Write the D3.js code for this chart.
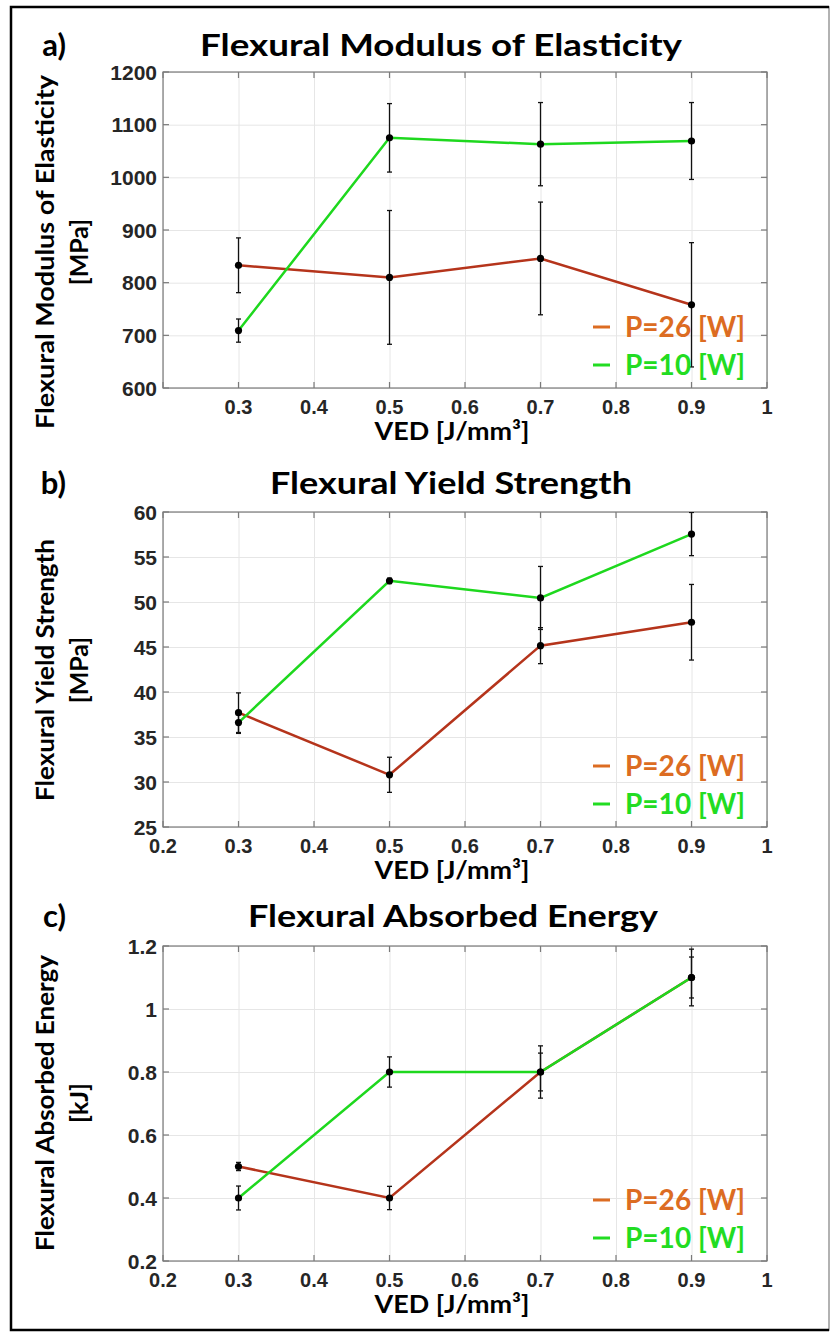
<!DOCTYPE html>
<html>
<head>
<meta charset="utf-8">
<script src="https://cdn.jsdelivr.net/npm/d3@7/dist/d3.min.js"></script>
<style>
body { margin: 0; background: #fff; }
</style>
</head>
<body>
<svg id="chart" width="840" height="1334"></svg>
<script>
// VED values (J/mm^3)
const ved = [0.3, 0.5, 0.7, 0.9];
const xTicks = [0.2, 0.3, 0.4, 0.5, 0.6, 0.7, 0.8, 0.9, 1];

// a) flexural modulus [MPa]
const modulus26 = [833, 810, 846, 758];
const modulus26Err = [52, 127, 107, 118];
const modulus10 = [709, 1075, 1063, 1069];
const modulus10Err = [22, 65, 79, 73];
const modulusTicks = [600, 700, 800, 900, 1000, 1100, 1200];

// b) flexural yield strength [MPa]
const yield26 = [37.7, 30.8, 45.15, 47.75];
const yield26Err = [2.2, 1.95, 2.0, 4.2];
const yield10 = [36.6, 52.35, 50.45, 57.55];
const yield10Err = [1.2, 0.3, 3.5, 2.4];
const yieldTicks = [25, 30, 35, 40, 45, 50, 55, 60];

// c) flexural absorbed energy [kJ]
const energy26 = [0.5, 0.4, 0.8, 1.1];
const energy26Err = [0.013, 0.037, 0.083, 0.09];
const energy10 = [0.4, 0.8, 0.8, 1.1];
const energy10Err = [0.038, 0.048, 0.06, 0.065];
const energyTicks = [0.2, 0.4, 0.6, 0.8, 1, 1.2];

const seriesNames = ['P=26 [W]', 'P=10 [W]'];

const lineColors = ['#b5341b', '#1ed81e'];
const legendColors = ['#dc6c22', '#22dc22'];
const titleFont = "Lato, 'Open Sans', sans-serif";
const tickFont = "'Liberation Sans', Arial, sans-serif";

const svg = d3.select('#chart');

// outer frame
svg.append('rect')
    .attr('x', 11).attr('y', 7).attr('width', 818).attr('height', 1323)
    .attr('fill', 'none').attr('stroke', '#999').attr('stroke-width', 1.5);
svg.append('path')
    .attr('d', 'M829,7 L11,7 L11,1330 L829,1330')
    .attr('fill', 'none').attr('stroke', '#000').attr('stroke-width', 2.5);

const x = d3.scaleLinear().domain([0.2, 1]).range([163, 767]);

const panels = [
    {
        tag: 'a)', title: 'Flexural Modulus of Elasticity', titleX: 441, titleLen: 482, titleY: 56,
        yLabel: 'Flexural Modulus of Elasticity', unit: '[MPa]', yLabelLen: 354, yLabelMid: 252,
        top: 72, bottom: 388, ticks: modulusTicks,
        series: [[modulus26, modulus26Err], [modulus10, modulus10Err]],
        hideFirstX: true
    },
    {
        tag: 'b)', title: 'Flexural Yield Strength', titleX: 451, titleLen: 362, titleY: 494,
        yLabel: 'Flexural Yield Strength', unit: '[MPa]', yLabelLen: 262, yLabelMid: 670,
        top: 512, bottom: 827, ticks: yieldTicks,
        series: [[yield26, yield26Err], [yield10, yield10Err]],
        hideFirstX: false
    },
    {
        tag: 'c)', title: 'Flexural Absorbed Energy', titleX: 453, titleLen: 410, titleY: 927,
        yLabel: 'Flexural Absorbed Energy', unit: '[kJ]', yLabelLen: 296, yLabelMid: 1103,
        top: 946, bottom: 1261, ticks: energyTicks,
        series: [[energy26, energy26Err], [energy10, energy10Err]],
        hideFirstX: false
    }
];

const drawPanel = (p, idx) => {
    const g = svg.append('g');
    const [x0, x1] = x.range();
    const y = d3.scaleLinear()
        .domain(d3.extent(p.ticks))
        .range([p.bottom, p.top]);

    const clipId = 'clip' + idx;
    g.append('clipPath').attr('id', clipId)
        .append('rect')
        .attr('x', x0).attr('y', p.top)
        .attr('width', x1 - x0).attr('height', p.bottom - p.top);

    // grid
    g.append('g')
        .attr('transform', `translate(0,${p.bottom})`)
        .call(d3.axisBottom(x).tickValues(xTicks).tickSize(-(p.bottom - p.top)).tickFormat(''))
        .call(a => a.select('.domain').remove())
        .selectAll('line').attr('stroke', '#e6e6e6');
    g.append('g')
        .attr('transform', `translate(${x0},0)`)
        .call(d3.axisLeft(y).tickValues(p.ticks).tickSize(-(x1 - x0)).tickFormat(''))
        .call(a => a.select('.domain').remove())
        .selectAll('line').attr('stroke', '#e6e6e6');

    // box
    g.append('rect')
        .attr('x', x0).attr('y', p.top)
        .attr('width', x1 - x0).attr('height', p.bottom - p.top)
        .attr('fill', 'none').attr('stroke', '#7a7a7a').attr('stroke-width', 1.2);

    // inward ticks on all four sides
    const tickStyle = sel => sel.attr('stroke', '#7a7a7a').attr('stroke-width', 1.2);
    g.append('g').selectAll('line').data(xTicks).join('line')
        .attr('x1', d => x(d)).attr('x2', d => x(d))
        .attr('y1', p.bottom).attr('y2', p.bottom - 6).call(tickStyle);
    g.append('g').selectAll('line').data(xTicks).join('line')
        .attr('x1', d => x(d)).attr('x2', d => x(d))
        .attr('y1', p.top).attr('y2', p.top + 6).call(tickStyle);
    g.append('g').selectAll('line').data(p.ticks).join('line')
        .attr('x1', x0).attr('x2', x0 + 6)
        .attr('y1', d => y(d)).attr('y2', d => y(d)).call(tickStyle);
    g.append('g').selectAll('line').data(p.ticks).join('line')
        .attr('x1', x1).attr('x2', x1 - 6)
        .attr('y1', d => y(d)).attr('y2', d => y(d)).call(tickStyle);

    // tick labels
    const fmt = d3.format('~g');
    g.append('g').selectAll('text')
        .data(p.hideFirstX ? xTicks.slice(1) : xTicks).join('text')
        .attr('x', d => x(d)).attr('y', p.bottom + 26)
        .attr('text-anchor', 'middle')
        .attr('font-family', tickFont).attr('font-weight', 'bold')
        .attr('font-size', 20).attr('fill', '#262626')
        .text(fmt);
    g.append('g').selectAll('text')
        .data(p.ticks).join('text')
        .attr('x', x0 - 6).attr('y', d => y(d))
        .attr('dy', '0.36em')
        .attr('text-anchor', 'end')
        .attr('font-family', tickFont).attr('font-weight', 'bold')
        .attr('font-size', 21).attr('fill', '#262626')
        .text(fmt);

    // series
    const line = d3.line().x((d, i) => x(ved[i])).y(d => y(d));
    const plot = g.append('g').attr('clip-path', `url(#${clipId})`);
    p.series.forEach(([vals, errs], si) => {
        plot.append('path')
            .datum(vals)
            .attr('d', line)
            .attr('fill', 'none')
            .attr('stroke', lineColors[si])
            .attr('stroke-width', 2.5);
        const eb = plot.append('g').attr('stroke', '#111').attr('stroke-width', 1.3);
        eb.selectAll('line.bar').data(vals).join('line').attr('class', 'bar')
            .attr('x1', (d, i) => x(ved[i])).attr('x2', (d, i) => x(ved[i]))
            .attr('y1', (d, i) => y(d + errs[i])).attr('y2', (d, i) => y(d - errs[i]));
        eb.selectAll('line.capT').data(vals).join('line').attr('class', 'capT')
            .attr('x1', (d, i) => x(ved[i]) - 2.5).attr('x2', (d, i) => x(ved[i]) + 2.5)
            .attr('y1', (d, i) => y(d + errs[i])).attr('y2', (d, i) => y(d + errs[i]));
        eb.selectAll('line.capB').data(vals).join('line').attr('class', 'capB')
            .attr('x1', (d, i) => x(ved[i]) - 2.5).attr('x2', (d, i) => x(ved[i]) + 2.5)
            .attr('y1', (d, i) => y(d - errs[i])).attr('y2', (d, i) => y(d - errs[i]));
    });
    p.series.forEach(([vals]) => {
        plot.append('g').selectAll('circle').data(vals).join('circle')
            .attr('cx', (d, i) => x(ved[i])).attr('cy', d => y(d))
            .attr('r', 3.6).attr('fill', '#000');
    });

    // legend
    const leg = g.append('g');
    seriesNames.forEach((name, si) => {
        const by = p.bottom - 51 + si * 38;
        leg.append('line')
            .attr('x1', 593).attr('x2', 610)
            .attr('y1', by - 10).attr('y2', by - 10)
            .attr('stroke', legendColors[si]).attr('stroke-width', 3);
        leg.append('text')
            .attr('x', 625).attr('y', by)
            .attr('font-family', titleFont).attr('font-weight', 'bold')
            .attr('font-size', 29).attr('fill', legendColors[si])
            .attr('textLength', 120).attr('lengthAdjust', 'spacingAndGlyphs')
            .text(name);
    });

    // titles
    g.append('text')
        .attr('x', 66).attr('y', p.titleY)
        .attr('text-anchor', 'end')
        .attr('font-family', titleFont).attr('font-weight', 'bold')
        .attr('font-size', 31).attr('fill', '#000')
        .text(p.tag);
    g.append('text')
        .attr('x', p.titleX).attr('y', p.titleY)
        .attr('text-anchor', 'middle')
        .attr('font-family', titleFont).attr('font-weight', 'bold')
        .attr('font-size', 31).attr('fill', '#000')
        .attr('textLength', p.titleLen).attr('lengthAdjust', 'spacingAndGlyphs')
        .text(p.title);

    // axis labels
    const cy = p.yLabelMid;
    g.append('text')
        .attr('transform', `translate(54,${cy}) rotate(-90)`)
        .attr('text-anchor', 'middle')
        .attr('font-family', titleFont).attr('font-weight', 'bold')
        .attr('font-size', 25).attr('fill', '#000')
        .attr('textLength', p.yLabelLen).attr('lengthAdjust', 'spacingAndGlyphs')
        .text(p.yLabel);
    g.append('text')
        .attr('transform', `translate(88,${cy}) rotate(-90)`)
        .attr('text-anchor', 'middle')
        .attr('font-family', titleFont).attr('font-weight', 'bold')
        .attr('font-size', 25).attr('fill', '#000')
        .text(p.unit);
    g.append('text')
        .attr('x', 452).attr('y', p.bottom + 52)
        .attr('text-anchor', 'middle')
        .attr('font-family', titleFont).attr('font-weight', 'bold')
        .attr('font-size', 24).attr('fill', '#000')
        .attr('textLength', 155).attr('lengthAdjust', 'spacingAndGlyphs')
        .text('VED [J/mm³]');
};

panels.forEach(drawPanel);
</script>
</body>
</html>
